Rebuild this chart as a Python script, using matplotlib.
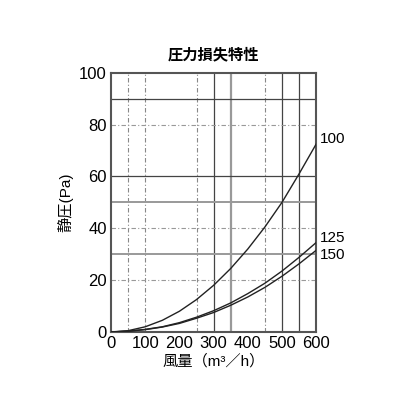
import matplotlib
matplotlib.use('Agg')
import matplotlib.pyplot as plt

plt.rcParams['font.family'] = ['Liberation Sans', 'Noto Sans CJK JP', 'DejaVu Sans']

# 風量 (m3/h)
flow = [0, 50, 100, 150, 200, 250, 300, 350, 400, 450, 500, 550, 600]
# 静圧 (Pa) for each duct diameter
p100 = [0, 0.5, 2, 4.5, 8, 12.5, 18, 24.5, 32, 40.5, 50, 61, 72.5]
p125 = [0, 0.3, 1, 2, 3.6, 5.7, 8.2, 11.2, 14.8, 18.8, 23.5, 28.8, 34.5]
p150 = [0, 0.3, 0.9, 1.9, 3.3, 5.3, 7.5, 10.3, 13.5, 17.2, 21.5, 26.3, 31.5]
series_labels = ['100', '125', '150']

fig = plt.figure(figsize=(4.16, 4.16), dpi=100)
ax = fig.add_axes([0.267, 0.202, 0.493, 0.623])

# scanned-looking grid
vsolid = [300, 500, 550]
vgray = [350]
vdash = [50, 100, 250, 450]
hsolid = [90, 60]
hgray = [50, 30]
hdash = [80, 40, 20]
for x in vsolid:
    ax.axvline(x, color='#444444', lw=0.9, zorder=1)
for x in vgray:
    ax.axvline(x, color='#999999', lw=1.6, zorder=1)
for x in vdash:
    ax.axvline(x, color='#888888', lw=0.8, ls=(0, (4, 2, 1, 2)), zorder=1)
for y in hsolid:
    ax.axhline(y, color='#444444', lw=0.9, zorder=1)
for y in hgray:
    ax.axhline(y, color='#999999', lw=1.4, zorder=1)
for y in hdash:
    ax.axhline(y, color='#999999', lw=0.8, ls=(0, (4, 2, 1, 2)), zorder=1)

for ys in (p100, p125, p150):
    ax.plot(flow, ys, color='#222222', lw=1.0, zorder=3)

ax.text(612, p100[-1] + 2, series_labels[0], fontsize=11, va='center', ha='left')
ax.text(612, p125[-1] + 1.8, series_labels[1], fontsize=11, va='center', ha='left')
ax.text(612, p150[-1] - 1.8, series_labels[2], fontsize=11, va='center', ha='left')

ax.set_xlim(0, 600)
ax.set_ylim(0, 100)
ax.set_xticks(range(0, 601, 100))
ax.set_yticks(range(0, 101, 20))
ax.tick_params(labelsize=12, length=0, pad=3)
for s in ax.spines.values():
    s.set_color('#555555')
    s.set_linewidth(1.5)

ax.set_title('圧力損失特性', fontsize=11, fontweight='bold', pad=10)
ax.set_xlabel('風量（m³／h）', fontsize=11, labelpad=2)
ax.set_ylabel('静圧(Pa)', fontsize=11, labelpad=4)

plt.savefig('out.png', dpi=100)
